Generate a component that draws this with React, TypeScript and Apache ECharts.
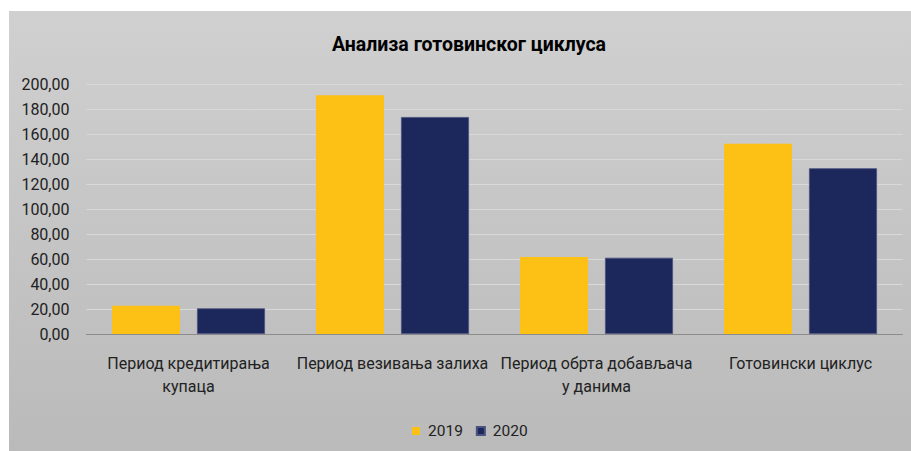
import React, { useEffect, useRef } from "react";
import * as echarts from "echarts";

const categories = [
  "Период кредитирања\nкупаца",
  "Период везивања залиха",
  "Период обрта добављача\nу данима",
  "Готовински циклус",
];
const series2019 = [22.6, 191.0, 61.6, 152.2];
const series2020 = [20.5, 173.6, 61.0, 132.6];
const seriesNames = ["2019", "2020"];
const yTicks = { min: 0, max: 200, interval: 20 };

const FONT = "Roboto, 'Liberation Sans', sans-serif";

export default function App() {
  const ref = useRef<HTMLDivElement>(null);
  useEffect(() => {
    document.body.style.margin = "0";
    const chart = echarts.init(ref.current!, null, { renderer: "svg" });
    chart.setOption({
      animation: false,
      backgroundColor: "#ffffff",
      graphic: [
        {
          type: "rect",
          left: 9,
          top: 11,
          shape: { width: 902, height: 440 },
          silent: true,
          z: -10,
          style: {
            fill: new echarts.graphic.LinearGradient(0, 0, 0, 1, [
              { offset: 0, color: "#d0d0d0" },
              { offset: 1, color: "#bababa" },
            ]),
          },
        },
      ],
      title: {
        text: "Анализа готовинског циклуса",
        left: 464,
        textAlign: "center",
        top: 29,
        textStyle: { fontFamily: FONT, fontSize: 19.5, fontWeight: "bold", color: "#000" },
      },
      legend: {
        data: seriesNames,
        bottom: 7,
        left: 407,
        itemWidth: 8,
        itemHeight: 8,
        itemGap: 13,
        icon: "rect",
        textStyle: { fontFamily: FONT, fontSize: 15.5, color: "#222", padding: [0, 0, 0, 3] },
      },
      grid: { left: 86.5, right: 8.5, top: 84, bottom: 117, containLabel: false },
      xAxis: {
        type: "category",
        data: categories,
        axisTick: { show: false },
        axisLine: { lineStyle: { color: "#8c8c8c", width: 1 } },
        axisLabel: {
          fontFamily: FONT,
          fontSize: 16,
          color: "#222",
          margin: 18,
          lineHeight: 23,
          interval: 0,
        },
      },
      yAxis: {
        type: "value",
        min: yTicks.min,
        max: yTicks.max,
        interval: yTicks.interval,
        axisLine: { show: false },
        axisTick: { show: false },
        splitLine: { lineStyle: { color: "#d9d9d9", width: 1 } },
        axisLabel: {
          fontFamily: FONT,
          fontSize: 16,
          color: "#222",
          margin: 17,
          formatter: (v: number) => v.toFixed(2).replace(".", ","),
        },
      },
      series: [
        {
          name: seriesNames[0],
          type: "bar",
          data: series2019,
          barWidth: 68,
          barGap: "25%",
          itemStyle: { color: "#FDC116" },
        },
        {
          name: seriesNames[1],
          type: "bar",
          data: series2020,
          barWidth: 68,
          barGap: "25%",
          itemStyle: { color: "#1C275B", borderColor: "#4a5280", borderWidth: 0.8 },
        },
      ],
    });
    return () => chart.dispose();
  }, []);
  return <div ref={ref} style={{ width: 911, height: 451 }} />;
}
